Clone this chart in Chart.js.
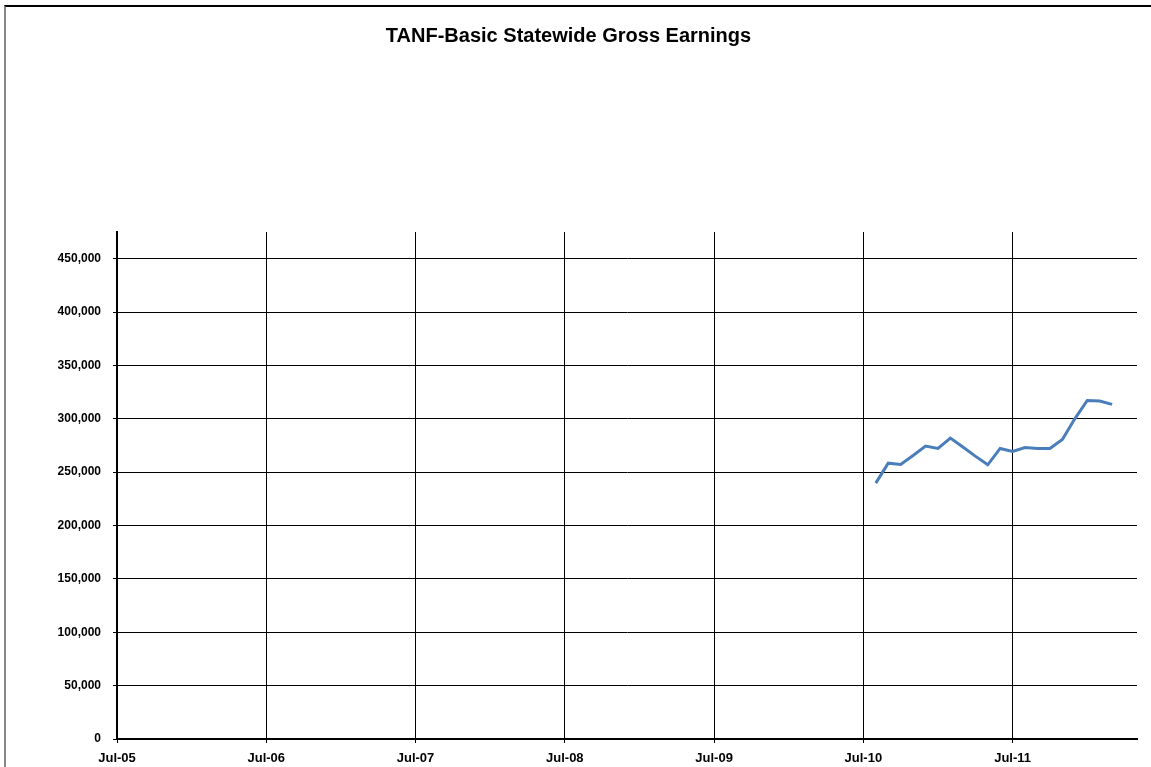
<!DOCTYPE html>
<html>
<head>
<meta charset="utf-8">
<script src="https://cdn.jsdelivr.net/npm/chart.js@4.4.1/dist/chart.umd.min.js"></script>
<style>
  html, body { margin: 0; padding: 0; background: #fff; }
  #wrap { position: relative; width: 1151px; height: 767px; overflow: hidden; }
  #frame { position: absolute; left: 4px; top: 5px; width: 1200px; height: 800px;
           border-top: 2px solid #000; border-left: 2px solid #888; pointer-events: none; }
</style>
</head>
<body>
<div id="wrap">
  <canvas id="chart" width="1151" height="767"></canvas>
  <div id="frame"></div>
</div>
<script>
// months with data, and the earnings read for each
const months = ['Aug-10', 'Sep-10', 'Oct-10', 'Nov-10', 'Dec-10', 'Jan-11', 'Feb-11', 'Mar-11', 'Apr-11', 'May-11',
  'Jun-11', 'Jul-11', 'Aug-11', 'Sep-11', 'Oct-11', 'Nov-11', 'Dec-11', 'Jan-12', 'Feb-12', 'Mar-12'];
const earnings = [239700, 258400, 257200, 265600, 274400, 272200, 281900, 273500, 265000, 256900,
  272200, 269400, 273100, 272200, 272200, 280600, 300000, 317200, 316700, 313500];
// x axis tick labels (one a year) and y axis tick values
const yearTicks = ['Jul-05', 'Jul-06', 'Jul-07', 'Jul-08', 'Jul-09', 'Jul-10', 'Jul-11'];
const valueTicks = [0, 50000, 100000, 150000, 200000, 250000, 300000, 350000, 400000, 450000];

const monthNames = ['Jan', 'Feb', 'Mar', 'Apr', 'May', 'Jun', 'Jul', 'Aug', 'Sep', 'Oct', 'Nov', 'Dec'];
// months counted from Jul-05
function monthIndex(label) {
  const [m, y] = label.split('-');
  return (2000 + Number(y) - 2005) * 12 + monthNames.indexOf(m) - 6;
}

const points = months.map((m, i) => ({ x: monthIndex(m), y: earnings[i] }));
const font = { family: 'Arial, "Liberation Sans", sans-serif', size: 12, weight: 'bold' };

new Chart(document.getElementById('chart').getContext('2d'), {
  type: 'line',
  data: {
    datasets: [{
      data: points,
      borderColor: '#4a7ebb',
      borderWidth: 3,
      pointRadius: 0,
      tension: 0,
      fill: false
    }]
  },
  options: {
    responsive: false,
    animation: false,
    layout: { padding: { left: 0, right: 14, top: 0, bottom: 0 } },
    plugins: {
      legend: { display: false },
      tooltip: { enabled: false },
      title: {
        display: true,
        text: 'TANF-Basic Statewide Gross Earnings',
        color: '#000',
        font: { family: 'Arial, "Liberation Sans", sans-serif', size: 20, weight: 'bold' },
        padding: { top: 24, bottom: 184 }
      }
    },
    scales: {
      x: {
        type: 'linear',
        min: 0,
        max: 82,
        afterBuildTicks: (scale) => {
          scale.ticks = yearTicks.map(t => ({ value: monthIndex(t) }));
        },
        afterFit: (scale) => { scale.height = 28; },
        ticks: {
          color: '#000',
          font: { ...font, size: 13 },
          padding: 8,
          maxRotation: 0,
          autoSkip: false,
          callback: (v) => yearTicks.find(t => monthIndex(t) === v) || ''
        },
        grid: { color: '#000', lineWidth: 1, tickLength: 4 },
        border: { color: '#000', width: 2 }
      },
      y: {
        min: 0,
        max: 475000,
        afterBuildTicks: (scale) => {
          scale.ticks = valueTicks.map(v => ({ value: v }));
        },
        afterFit: (scale) => { scale.width = 117; },
        ticks: {
          color: '#000',
          font: font,
          padding: 12,
          autoSkip: false,
          callback: (v) => v.toLocaleString('en-US')
        },
        grid: { color: '#000', lineWidth: 1, tickLength: 4 },
        border: { color: '#000', width: 2 }
      }
    }
  }
});
</script>
</body>
</html>
